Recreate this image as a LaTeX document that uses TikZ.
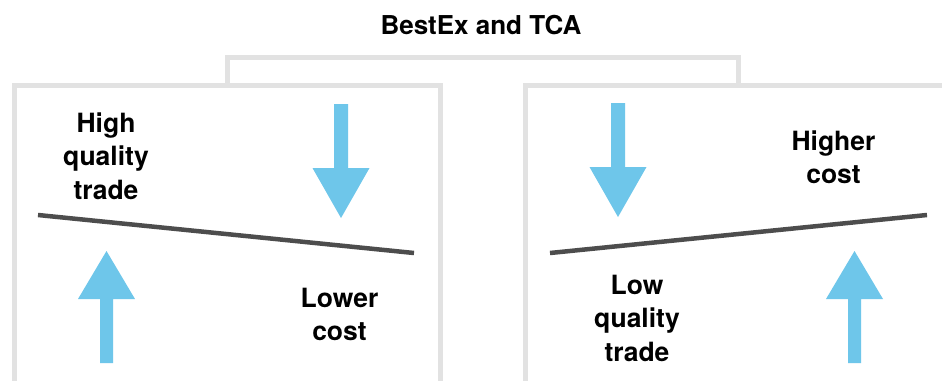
\documentclass[tikz,border=0pt]{standalone}
\usepackage{fontspec}
\setmainfont{TeX Gyre Heros}
\begin{document}
\begin{tikzpicture}[x=1pt,y=-1pt,
  boxline/.style={draw=boxgray,line width=5pt},
  beam/.style={draw=beamgray,line width=4.5pt},
  lbl/.style={anchor=north,align=center,inner sep=0pt,font=\bfseries\fontsize{26.5}{33.5}\selectfont},
  ttl/.style={anchor=north,inner sep=0pt,font=\bfseries\fontsize{26}{30}\selectfont},
  dnarrow/.pic={\fill[arrowblue] (-7,0) -- (-7,64) -- (-28.5,64) -- (0,114) -- (28.5,64) -- (7,64) -- (7,0) -- cycle;},
  uparrow/.pic={\fill[arrowblue] (-6.5,0) -- (-6.5,-64) -- (-28.5,-64) -- (0,-112) -- (28.5,-64) -- (6.5,-64) -- (6.5,0) -- cycle;}
]
\definecolor{boxgray}{HTML}{E2E2E2}
\definecolor{beamgray}{HTML}{4D4D4D}
\definecolor{arrowblue}{HTML}{6EC6EA}
\useasboundingbox[fill=white] (0,0) rectangle (942,381);
% bracket
\coordinate (bl) at (227.5,85);
\coordinate (br) at (738.5,85);
\draw[boxline] (bl) -- (227.5,57.5) -- (738.5,57.5) -- (br);
% left box (open bottom)
\draw[boxline] (14,381) -- (14,85) -- (440,85) -- (440,381);
% right box
\draw[boxline] (525.5,381) -- (525.5,85) -- (945,85);
% title
\node[ttl] (title) at (481,15) {BestEx and TCA};
% beams
\coordinate (la) at (38,215); \coordinate (lb) at (414,253);
\coordinate (ra) at (550,253); \coordinate (rb) at (927,215);
\draw[beam] (la) -- (lb);
\draw[beam] (ra) -- (rb);
% arrows
\pic at (341,104) {dnarrow};
\pic at (618,103) {dnarrow};
\pic at (106.5,363) {uparrow};
\pic at (854.5,363) {uparrow};
% labels
\node[lbl] (hq) at (106,112.5) {High\\quality\\trade};
\node[lbl] (lc) at (339.5,287.5) {Lower\\cost};
\node[lbl] (hc) at (833.5,130.5) {Higher\\cost};
\node[lbl] (lq) at (637,274.5) {Low\\quality\\trade};
\end{tikzpicture}
\end{document}
